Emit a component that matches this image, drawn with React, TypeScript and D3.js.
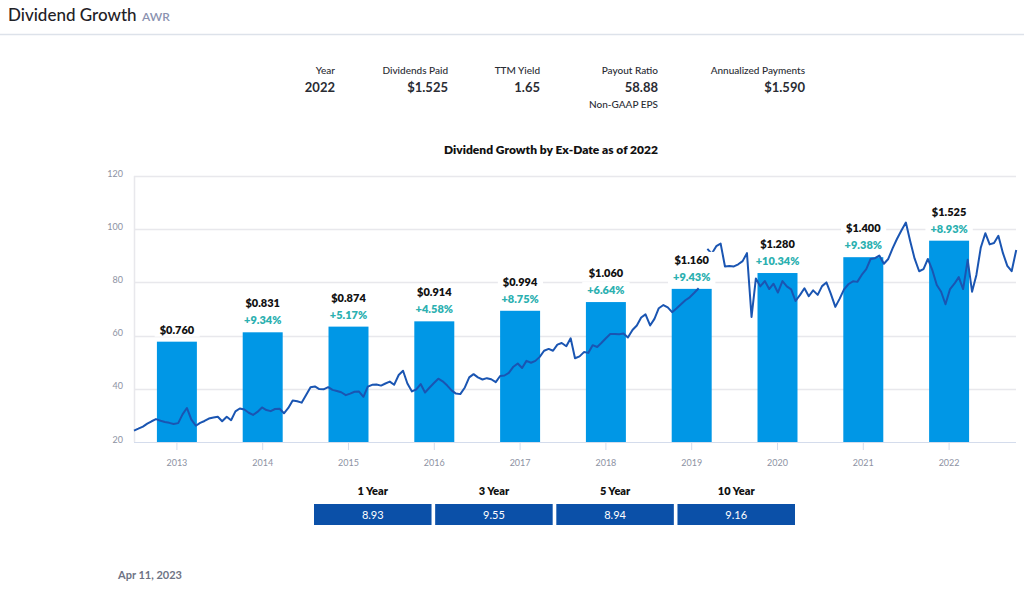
import React, { useEffect, useRef } from 'react';
import * as d3 from 'd3';

// dividend history
const years = ['2013', '2014', '2015', '2016', '2017', '2018', '2019', '2020', '2021', '2022'];
const dividends = [0.76, 0.831, 0.874, 0.914, 0.994, 1.06, 1.16, 1.28, 1.4, 1.525];
const growthLabels = ['', '+9.34%', '+5.17%', '+4.58%', '+8.75%', '+6.64%', '+9.43%', '+10.34%', '+9.38%', '+8.93%'];

// share price, roughly every 18 days from Apr 11 2013 to Apr 11 2023 (null = gap in feed)
const prices: (number | null)[] = [
  24.3, 25.0, 25.8, 26.9, 27.8, 28.6, 28.0, 27.5, 27.2, 26.8,
  27.1, 30.4, 32.8, 28.5, 26.1, 27.2, 27.9, 28.8, 29.2, 29.5,
  27.8, 29.5, 28.2, 31.5, 32.6, 32.2, 31.0, 30.2, 31.3, 33.0,
  32.0, 31.6, 32.4, 32.5, 30.8, 32.8, 35.6, 35.3, 34.8, 37.6,
  40.6, 40.9, 39.9, 39.8, 40.6, 39.6, 39.2, 38.7, 37.6, 38.2,
  38.9, 39.0, 37.0, 40.8, 41.5, 41.6, 41.2, 42.0, 42.7, 41.5,
  45.2, 46.8, 42.0, 39.0, 39.8, 41.8, 38.6, 40.5, 42.2, 43.8,
  42.8, 41.2, 39.4, 38.2, 38.0, 40.5, 44.3, 45.5, 44.3, 43.5,
  44.0, 43.6, 42.5, 44.8, 45.0, 46.0, 48.3, 49.5, 47.8, 50.5,
  49.8, 50.5, 52.0, 54.3, 55.0, 54.3, 56.6, 57.2, 56.0, 59.0,
  51.5, 52.2, 53.8, 53.5, 56.4, 55.7, 57.3, 59.0, 60.6, 60.6,
  60.5, 60.8, 59.3, 62.1, 63.8, 66.8, 68.0, 63.8, 66.3, 70.3,
  71.5, 70.6, 68.8, 70.2, 71.8, 73.3, 74.4, 76.0, 77.8, null,
  92.6, 90.8, 93.6, 94.6, 86.0, 86.2, 86.0, 86.8, 88.0, 91.0,
  67.0, 81.5, 78.5, 80.5, 77.5, 79.5, 76.2, 80.5, 78.5, 77.4,
  73.0, 75.3, 77.8, 74.8, 77.0, 75.3, 78.6, 80.0, 75.8, 70.8,
  73.9, 77.4, 79.4, 80.4, 80.2, 82.8, 85.0, 88.8, 89.1, 90.1,
  87.0, 88.8, 92.8, 96.3, 99.6, 102.5, 95.5, 89.0, 84.2, 85.0,
  88.8, 84.5, 79.0, 76.5, 71.8, 77.5, 79.5, 82.0, 77.5, 88.5,
  76.5, 82.8, 93.0, 98.5, 94.3, 94.8, 97.5, 91.0, 86.2, 84.2,
  92.2,
];
const priceStart = new Date(2013, 3, 11);
const priceEnd = new Date(2023, 3, 11);
const priceTicks = [20, 40, 60, 80, 100, 120];

// summary row
const statLabels = ['Year', 'Dividends Paid', 'TTM Yield', 'Payout Ratio', 'Annualized Payments'];
const statValues = ['2022', '$1.525', '1.65', '58.88', '$1.590'];
const statNotes = ['', '', '', 'Non-GAAP EPS', ''];

// CAGR table
const periods = ['1 Year', '3 Year', '5 Year', '10 Year'];
const cagr = [8.93, 9.55, 8.94, 9.16];

const W = 1024;
const H = 592;
const FONT = 'Lato, "Noto Sans", sans-serif';

export default function App() {
  const svgRef = useRef<SVGSVGElement>(null);

  useEffect(() => {
    if (!svgRef.current) return;
    const svg = d3.select(svgRef.current).html('');

    const left = 134, right = 1016, top = 176, bottom = 442;

    // header
    svg.append('text').attr('x', 8).attr('y', 21).attr('font-size', 17).attr('font-weight', 500)
      .attr('fill', '#1f2126').text('Dividend Growth');
    svg.append('text').attr('x', 142).attr('y', 21).attr('font-size', 12).attr('font-weight', 600)
      .attr('fill', '#8a92b0').text('AWR');
    svg.append('line').attr('x1', 0).attr('x2', W).attr('y1', 34.5).attr('y2', 34.5)
      .attr('stroke', '#dde2ea').attr('stroke-width', 1.5);

    // summary stats (right aligned columns)
    const statRight = [335, 448, 540, 658, 805];
    statLabels.forEach((lab, i) => {
      const g = svg.append('g').attr('text-anchor', 'end');
      g.append('text').attr('x', statRight[i]).attr('y', 73.5).attr('font-size', 10)
        .attr('font-weight', 500).attr('fill', '#2a2c33').text(lab);
      g.append('text').attr('x', statRight[i]).attr('y', 92).attr('font-size', 13)
        .attr('font-weight', 700).attr('fill', '#2a2c33').text(statValues[i]);
      if (statNotes[i]) {
        g.append('text').attr('x', statRight[i]).attr('y', 108).attr('font-size', 10)
          .attr('font-weight', 500).attr('fill', '#2a2c33').text(statNotes[i]);
      }
    });

    svg.append('text').attr('x', 551).attr('y', 154).attr('text-anchor', 'middle')
      .attr('font-size', 12).attr('font-weight', 800).attr('fill', '#111')
      .text('Dividend Growth by Ex-Date as of 2022');

    // scales
    const yPrice = d3.scaleLinear().domain([20, 120]).range([bottom, top]);
    const yDiv = d3.scaleLinear().domain([0, 2.015]).range([bottom, top]);
    const xBand = d3.scaleBand<string>().domain(years).range([left, 992])
      .paddingInner(0.534).paddingOuter(0.267);
    const xTime = d3.scaleTime().domain([priceStart, priceEnd]).range([left, right]);

    // grid
    svg.append('g').selectAll('line').data(priceTicks.filter(t => t !== 20)).join('line')
      .attr('x1', left).attr('x2', right)
      .attr('y1', d => Math.round(yPrice(d)) + 0.5).attr('y2', d => Math.round(yPrice(d)) + 0.5)
      .attr('stroke', '#e8e8ec').attr('stroke-width', 1.5);
    svg.append('line').attr('x1', left + 0.5).attr('x2', left + 0.5).attr('y1', top).attr('y2', bottom)
      .attr('stroke', '#e8e8ec').attr('stroke-width', 1.5);

    svg.append('g').selectAll('text').data(priceTicks).join('text')
      .attr('x', 123).attr('y', d => yPrice(d) + 0.5).attr('text-anchor', 'end')
      .attr('font-size', 9).attr('fill', '#8d92a3').text(d => d);

    // bars
    svg.append('g').selectAll('rect').data(dividends).join('rect')
      .attr('x', (_, i) => xBand(years[i])!).attr('width', xBand.bandwidth())
      .attr('y', d => yDiv(d)).attr('height', d => bottom - yDiv(d))
      .attr('fill', '#0097e6');

    // x axis
    svg.append('line').attr('x1', left).attr('x2', right).attr('y1', bottom + 0.5).attr('y2', bottom + 0.5)
      .attr('stroke', '#d4dcec').attr('stroke-width', 1);
    const xt = svg.append('g');
    years.forEach(y => {
      const cx = xBand(y)! + xBand.bandwidth() / 2;
      xt.append('line').attr('x1', cx).attr('x2', cx).attr('y1', bottom).attr('y2', bottom + 8)
        .attr('stroke', '#d4dcec');
      xt.append('text').attr('x', cx).attr('y', 466).attr('text-anchor', 'middle')
        .attr('font-size', 9).attr('fill', '#8d92a3').text(y);
    });

    // price line
    const pts = prices.map((v, i) => ({
      date: d3.timeDay.offset(priceStart, Math.round((i * 365.25) / 20)),
      v,
    }));
    const line = d3.line<{ date: Date; v: number | null }>()
      .defined(d => d.v != null)
      .x(d => xTime(d.date))
      .y(d => yPrice(d.v as number))
      .curve(d3.curveLinear);
    svg.append('path').datum(pts).attr('d', line).attr('fill', 'none')
      .attr('stroke', '#1a55b2').attr('stroke-width', 2).attr('stroke-linejoin', 'round');

    // data labels with white background
    const labG = svg.append('g').attr('text-anchor', 'middle').attr('font-size', 11).attr('font-weight', 800);
    const addLabel = (x: number, y: number, txt: string, color: string) => {
      const bg = labG.append('rect').attr('fill', '#fff');
      const t = labG.append('text').attr('x', x).attr('y', y).attr('fill', color).text(txt);
      const bb = (t.node() as SVGTextElement).getBBox();
      bg.attr('x', bb.x - 5).attr('y', bb.y - 1).attr('width', bb.width + 10).attr('height', bb.height + 2);
    };
    dividends.forEach((d, i) => {
      const cx = xBand(years[i])! + xBand.bandwidth() / 2;
      const yTop = yDiv(d);
      if (growthLabels[i]) {
        addLabel(cx, yTop - 8, growthLabels[i], '#2bb0b0');
        addLabel(cx, yTop - 25, '$' + d3.format('.3f')(d), '#111');
      } else {
        addLabel(cx, yTop - 8, '$' + d3.format('.3f')(d), '#111');
      }
    });

    // CAGR table
    const xp = d3.scaleBand<string>().domain(periods).range([314, 795]).paddingInner(0.03);
    periods.forEach((p, i) => {
      const x0 = xp(p)!;
      const cx = x0 + xp.bandwidth() / 2;
      svg.append('text').attr('x', cx).attr('y', 495).attr('text-anchor', 'middle')
        .attr('font-size', 11).attr('font-weight', 800).attr('fill', '#111').text(p);
      svg.append('rect').attr('x', x0).attr('y', 504).attr('width', xp.bandwidth()).attr('height', 21)
        .attr('fill', '#0b50a8');
      svg.append('text').attr('x', cx).attr('y', 518.5).attr('text-anchor', 'middle')
        .attr('font-size', 11).attr('fill', '#fff').text(d3.format('.2f')(cagr[i]));
    });

    svg.append('text').attr('x', 118).attr('y', 579).attr('font-size', 11).attr('font-weight', 700)
      .attr('fill', '#6e7384').text('Apr 11, 2023');
  }, []);

  return (
    <svg
      ref={svgRef}
      width={W}
      height={H}
      viewBox={`0 0 ${W} ${H}`}
      style={{ position: 'absolute', left: 0, top: 0, background: '#fff', fontFamily: FONT }}
    />
  );
}
